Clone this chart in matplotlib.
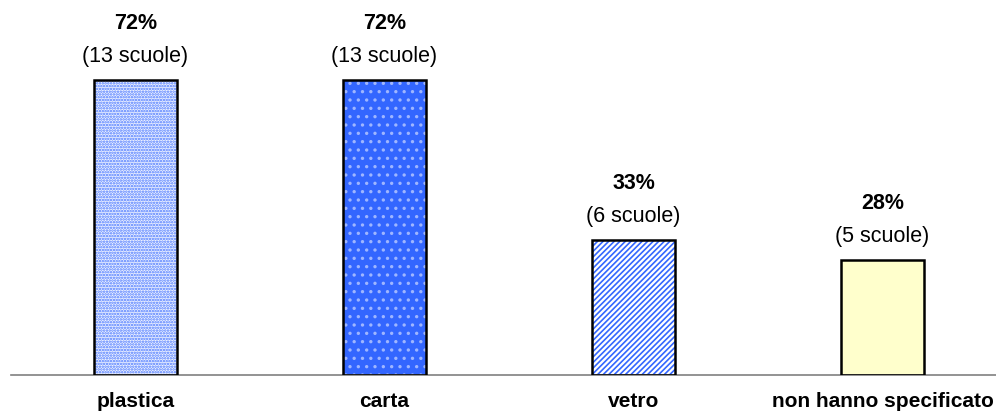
import matplotlib
matplotlib.use("Agg")
import matplotlib.pyplot as plt

categories = ["plastica", "carta", "vetro", "non hanno specificato"]
percent = [72, 72, 33, 28]
schools = [13, 13, 6, 5]

faces = ["#eef2ff", "#3366ff", "white", "#ffffcc"]
hatches = ["......", "..", "//////", None]
hatch_cols = ["#4a78ff", "#9fb6ff", "#3366ff", None]

plt.rcParams["font.family"] = ["Liberation Sans", "DejaVu Sans"]
plt.rcParams["hatch.linewidth"] = 1.2

fig = plt.figure(figsize=(9.96, 4.19), dpi=100)
ax = fig.add_axes([11/996, 44/419, 985/996, 375/419])

x = list(range(len(categories)))
w = 83/249
for i, (p, fc, h, hc) in enumerate(zip(percent, faces, hatches, hatch_cols)):
    ax.bar(i, p, width=w, color=fc, edgecolor=hc if hc else fc, hatch=h, linewidth=0, zorder=2)
    ax.bar(i, p, width=w, fill=False, edgecolor="black", linewidth=1.8, zorder=3)
    ax.text(i, p + 12.45, f"{p}%", ha="center", va="baseline", fontsize=15.5, fontweight="bold")
    ax.text(i, p + 4.4, f"({schools[i]} scuole)", ha="center", va="baseline", fontsize=15.5)

ax.set_xlim(-0.5, (996-135.5)/249)
ax.set_ylim(0, 72*375/295)
for s in ["top", "right", "left"]:
    ax.spines[s].set_visible(False)
ax.spines["bottom"].set_color("#808080")
ax.spines["bottom"].set_linewidth(1.2)
ax.set_yticks([])
ax.set_xticks(x)
ax.set_xticklabels(categories, fontsize=15, fontweight="bold")
ax.tick_params(axis="x", length=0, pad=12)

fig.savefig("out.png", dpi=100)
